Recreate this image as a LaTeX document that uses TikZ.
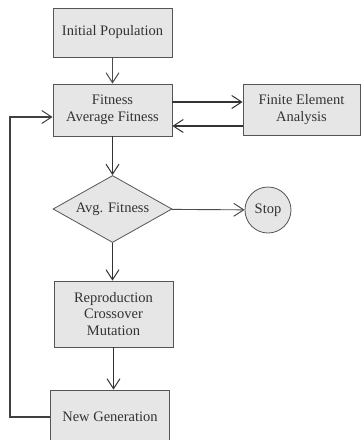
\documentclass[tikz,border=0pt]{standalone}
\usepackage{fontspec}
\setmainfont{Liberation Serif}
\usetikzlibrary{shapes.geometric,arrows.meta}
\definecolor{boxfill}{HTML}{E6E6E6}
\definecolor{boxline}{HTML}{555555}
\begin{document}
\begin{tikzpicture}[x=1pt,y=-1pt,
  every node/.style={font=\fontsize{14.5}{16.5}\selectfont, text=black!80, align=center},
  procbox/.style={draw=boxline, fill=boxfill, line width=0.8pt, minimum width=119pt, inner sep=0pt},
  decbox/.style={draw=boxline, fill=boxfill, line width=0.8pt, diamond, aspect=1.8, minimum width=119pt, minimum height=67pt, inner sep=0pt},
  stopc/.style={draw=boxline, fill=boxfill, line width=0.8pt, circle, minimum size=46pt, inner sep=0pt},
  tip/.style={-{Straight Barb[length=10pt,width=13pt,line width=1pt]}},
  thick arr/.style={tip, draw=black!80, line width=1.8pt},
  thin arr/.style={tip, draw=black!70, line width=0.9pt}]
\useasboundingbox (0,0) rectangle (362,440);
\node[procbox, minimum height=49pt] (init) at (112.5,32.5) {Initial Population};
\node[procbox, minimum height=52pt] (fit) at (112.5,110) {Fitness\\Average Fitness};
\node[procbox, minimum width=117pt, minimum height=51pt] (fea) at (301.5,109.5) {Finite Element\\Analysis};
\node[decbox] (avg) at (112.5,209) {Avg. Fitness};
\node[stopc] (stop) at (268,210) {Stop};
\node[procbox, minimum height=66pt] (rep) at (113.5,314) {Reproduction\\Crossover\\Mutation};
\node[procbox, minimum height=54pt] (ng) at (110,417) {New Generation};
\coordinate (c1) at (10,417);
\coordinate (c2) at (10,117);
\draw[thin arr] (init) -- (fit);
\draw[thick arr] (fit.east |- 0,102) -- (fea.west |- 0,102);
\draw[thick arr] (fea.west |- 0,126) -- (fit.east |- 0,126);
\draw[thick arr] (fit) -- (avg);
\draw[thin arr] (avg) -- (stop);
\draw[thick arr] (avg.south) -- (rep.north -| avg.south);
\draw[thick arr] (rep) -- (ng.north -| rep.south);
\draw[draw=black!75, line width=1.4pt, tip] (ng.west) -- (c1) -- (c2) -- (fit.west |- c2);
\end{tikzpicture}
\end{document}
